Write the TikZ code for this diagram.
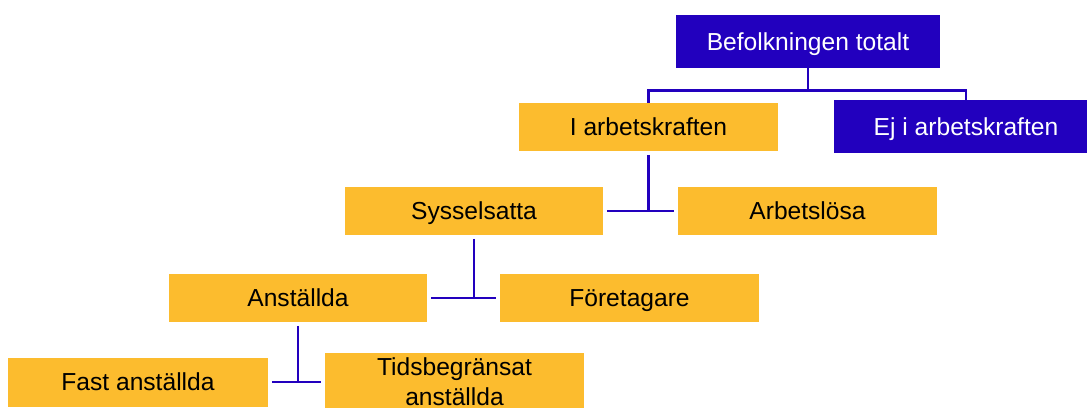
\documentclass[tikz,border=0pt]{standalone}
\usepackage{fontspec}
\setmainfont{Liberation Sans}
\usetikzlibrary{calc}
\definecolor{scbblue}{RGB}{34,0,190}
\definecolor{scbgold}{RGB}{252,188,46}
\tikzset{%
	box/.style args={#1 and #2}{rectangle,inner sep=0pt,minimum width=#1,minimum height=#2,
	font=\fontsize{14}{17}\selectfont,align=center,text height=10pt,text depth=0pt},
	blue/.style={fill=scbblue,text=white},
	gold/.style={fill=scbgold,text=black}
}

\begin{document}
\begin{tikzpicture}[x=0.02cm,y=-0.02cm,conn/.style={draw=scbblue,line width=1.6pt}]
				\useasboundingbox (0,0) rectangle (1087,407);
				\node [box=5.3cm and 1.06cm, blue] (bef) at (808, 41.5) {Befolkningen totalt};
				\node [box=5.18cm and 0.96cm, gold] (ak) at (648.5, 127) {I arbetskraften};
				\node [box=5.28cm and 1.06cm, blue] (ejak) at (966, 126.5) {Ej i arbetskraften};
				\node [box=5.18cm and 0.96cm, gold] (sys) at (474, 211) {Sysselsatta};
				\node [box=5.18cm and 0.96cm, gold] (al) at (807.5, 211) {Arbetslösa};
				\node [box=5.18cm and 0.96cm, gold] (ans) at (298, 298) {Anställda};
				\node [box=5.18cm and 0.96cm, gold] (ftg) at (629.5, 298) {Företagare};
				\node [box=5.2cm and 0.98cm, gold] (fast) at (138, 382) {Fast anställda};
				\node [box=5.18cm and 1.16cm, gold, text height=, text depth=] (tids) at (454.5, 382) {Tidsbegränsat\\anställda};
				\coordinate (J) at ($(bef.south)+(0,22)$);
				\draw [conn] (bef.south) -- (J);
				\draw [conn] (ak.north) |- (J) -| (ejak.north);
				\draw [conn, shorten <=2pt, shorten >=2pt] (sys) -- (al);
				\draw [conn, shorten <=2pt] (ak.south) -- (ak.south |- al.west);
				\draw [conn, shorten <=2pt, shorten >=2pt] (ans) -- (ftg);
				\draw [conn, shorten <=2pt] (sys.south) -- (sys.south |- ftg.west);
				\draw [conn, shorten <=2pt, shorten >=2pt] (fast) -- (tids);
				\draw [conn, shorten <=2pt] (ans.south) -- (ans.south |- tids.west);
			\end{tikzpicture}
\end{document}
